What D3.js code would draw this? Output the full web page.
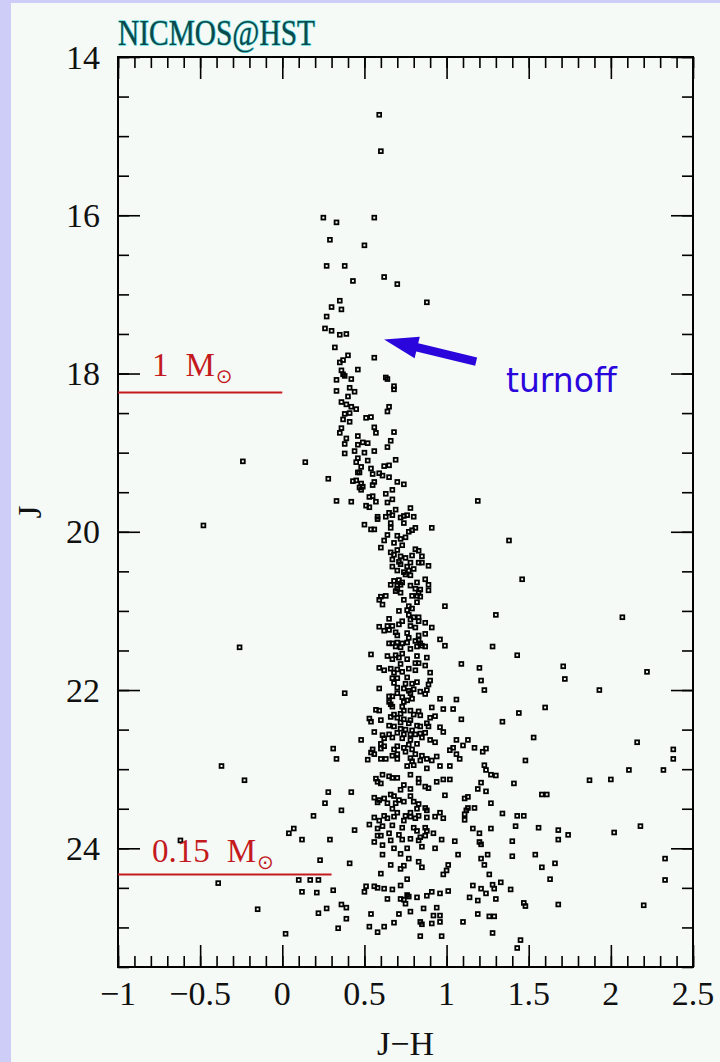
<!DOCTYPE html>
<html>
<head>
<meta charset="utf-8">
<script src="https://cdn.jsdelivr.net/npm/d3@7"></script>
<style>
  html, body { margin: 0; padding: 0; background: #f5faf7; }
  svg { display: block; }
</style>
</head>
<body>
<script>
// axis ticks and labels
var xMajor = [-1, -0.5, 0, 0.5, 1, 1.5, 2, 2.5];
var xLabels = ["\u22121", "\u22120.5", "0", "0.5", "1", "1.5", "2", "2.5"];
var yMajor = [14, 16, 18, 20, 22, 24];
var yLabels = ["14", "16", "18", "20", "22", "24"];

// mass markers on the main sequence (J where the mass is reached, colour where the bar stops)
var massNames = ["1", "0.15"];
var massJ = [18.24, 24.33];
var massEnd = [0.0, 0.3];

// turnoff arrow, tail -> tip, in J-H / J
var arrowTail = [1.18, 17.85];
var arrowTip = [0.62, 17.57];

// photometry, [J-H, J]
var brightStars = [[0.59,14.73],[0.60,15.19],[0.25,16.03],[0.33,16.09],[0.56,16.03],[0.29,16.31],[0.50,16.38],[0.27,16.64],[0.38,16.64],[0.43,16.83],[0.62,16.78],[0.70,16.87],[0.88,17.10],[0.35,17.08],[0.30,17.16],[0.36,17.19],[0.27,17.28],[0.26,17.43],[0.30,17.46],[0.35,17.51],[0.39,17.50],[0.32,17.67],[0.40,17.77],[0.37,17.83],[0.35,17.86],[0.56,17.80],[0.36,17.96],[0.46,17.95],[0.37,18.01],[0.38,18.03],[0.33,18.08],[0.42,18.07],[0.63,18.05],[0.64,18.07],[0.68,18.16],[0.68,18.20],[0.41,18.18],[0.44,18.23],[0.33,18.22],[0.40,18.29],[0.36,18.36],[0.39,18.39],[0.42,18.42],[0.45,18.45],[0.65,18.42]];

var upperStars = [[0.64,18.48],[0.38,18.51],[0.41,18.50],[0.37,18.58],[0.41,18.61],[0.51,18.56],[0.54,18.55],[0.36,18.69],[0.35,18.75],[0.56,18.68],[0.57,18.75],[0.68,18.74],[0.39,18.82],[0.38,18.89],[0.46,18.79],[0.49,18.87],[0.52,18.88],[0.46,18.90],[0.66,18.85],[0.64,18.93],[0.38,19.01],[0.44,18.98],[0.50,19.00],[0.56,18.98],[0.14,19.12],[0.46,19.07],[0.45,19.12],[0.52,19.10],[0.69,19.09],[0.48,19.18],[0.54,19.20],[0.62,19.17],[0.65,19.16],[0.46,19.25],[0.47,19.25],[0.55,19.27],[0.59,19.26],[0.61,19.29],[0.65,19.31],[0.28,19.33],[0.43,19.36],[0.45,19.35],[0.48,19.39],[0.56,19.37],[0.55,19.41],[0.70,19.37],[0.74,19.40],[0.47,19.44],[0.49,19.43],[0.48,19.47],[0.67,19.47],[0.63,19.52],[0.53,19.56],[0.55,19.55],[0.33,19.61],[0.42,19.62],[0.57,19.62],[0.64,19.63],[0.67,19.59],[1.19,19.61],[0.51,19.67],[0.53,19.69],[0.78,19.70],[0.69,19.72],[0.65,19.76],[0.67,19.79],[0.63,19.81],[0.58,19.81],[0.58,19.84],[0.72,19.82],[0.74,19.80],[0.76,19.79],[0.80,19.81],[0.50,19.91],[0.66,19.89],[0.74,19.89],[0.66,19.95],[0.81,19.95],[0.91,19.95],[0.54,19.97],[0.56,19.97]];

var middleStars = [[0.77,20.00],[0.79,19.98],[0.64,20.04],[0.70,20.05],[0.72,20.09],[0.75,20.07],[0.62,20.11],[0.68,20.14],[0.73,20.17],[1.38,20.11],[0.60,20.20],[0.70,20.23],[0.81,20.22],[0.83,20.24],[0.66,20.26],[0.68,20.29],[0.72,20.31],[0.75,20.33],[0.79,20.30],[0.85,20.31],[0.67,20.35],[0.71,20.38],[0.78,20.39],[0.83,20.39],[0.85,20.39],[0.67,20.44],[0.72,20.41],[0.76,20.44],[0.89,20.43],[0.70,20.49],[0.74,20.51],[0.77,20.49],[0.80,20.47],[0.75,20.54],[0.78,20.55],[0.68,20.62],[0.71,20.61],[0.73,20.64],[0.82,20.64],[0.87,20.60],[0.66,20.67],[0.70,20.68],[0.72,20.67],[0.89,20.67],[0.70,20.72],[0.78,20.68],[0.81,20.72],[0.84,20.73],[0.89,20.74],[0.69,20.75],[0.72,20.77],[0.83,20.77],[0.63,20.81],[0.60,20.82],[0.79,20.81],[0.82,20.81],[0.84,20.82],[0.59,20.86],[0.74,20.86],[0.82,20.89],[0.61,20.92],[0.77,20.94],[0.99,20.94],[0.71,21.00],[0.76,20.99],[0.79,20.97],[1.30,21.05],[0.77,21.05],[0.80,21.08],[0.83,21.08],[0.65,21.10],[0.78,21.11],[0.73,21.13],[0.83,21.13],[0.87,21.15],[0.59,21.20],[0.64,21.19],[0.67,21.19],[0.71,21.17],[0.78,21.19],[0.81,21.21],[0.91,21.21],[0.62,21.25],[0.65,21.24],[0.69,21.27],[0.70,21.31],[0.76,21.28],[0.83,21.31],[0.87,21.29],[0.77,21.34],[0.83,21.37],[0.96,21.36],[0.65,21.41],[0.67,21.41],[0.70,21.40],[0.73,21.41],[0.76,21.40],[0.81,21.38],[0.84,21.41],[0.99,21.44],[1.28,21.45],[0.69,21.45],[0.78,21.48],[0.82,21.45],[0.85,21.44],[0.87,21.45],[0.72,21.46]];

var lowerStars = [[0.54,21.55],[0.64,21.57],[0.69,21.56],[0.73,21.54],[0.82,21.57],[1.43,21.56],[0.67,21.61],[0.71,21.59],[0.76,21.61],[0.88,21.59],[0.81,21.66],[0.83,21.66],[0.72,21.67],[1.09,21.67],[1.20,21.72],[0.59,21.72],[0.62,21.75],[0.66,21.73],[0.70,21.74],[0.73,21.77],[0.77,21.73],[0.81,21.75],[0.87,21.69],[0.68,21.78],[0.90,21.78],[0.67,21.85],[0.70,21.85],[0.76,21.84],[0.90,21.88],[1.21,21.88],[0.68,21.91],[0.75,21.92],[0.79,21.92],[0.82,21.90],[0.89,21.93],[0.59,21.98],[0.70,21.97],[0.74,21.98],[0.77,22.01],[0.80,21.99],[0.84,22.02],[0.88,22.00],[1.23,22.00],[0.38,22.04],[0.70,22.04],[0.78,22.04],[0.87,22.05],[0.65,22.08],[0.67,22.08],[0.73,22.09],[0.79,22.11],[0.96,22.11],[1.06,22.12],[0.65,22.15],[0.66,22.18],[0.74,22.15],[0.76,22.13],[0.67,22.21],[0.73,22.21],[0.91,22.22],[0.98,22.24],[1.04,22.24],[0.57,22.25],[0.59,22.26],[0.74,22.26],[0.78,22.26],[0.83,22.27],[1.44,22.29],[0.68,22.31],[0.72,22.30],[0.80,22.31],[0.84,22.32],[0.93,22.33],[0.66,22.34],[0.70,22.35],[0.90,22.35],[0.53,22.36],[0.60,22.38],[0.74,22.37],[0.78,22.38],[1.09,22.37],[0.54,22.40],[0.72,22.41],[0.77,22.42],[0.88,22.42],[1.34,22.40],[0.65,22.45],[0.68,22.46],[0.82,22.45],[0.84,22.46],[0.89,22.46],[0.72,22.49],[0.75,22.50],[0.79,22.51],[0.96,22.47],[0.56,22.53],[0.61,22.57],[0.65,22.56],[0.70,22.54],[0.74,22.56],[0.78,22.56],[0.81,22.56],[0.84,22.55],[0.87,22.54],[0.98,22.53],[0.62,22.61],[0.67,22.60],[0.73,22.61],[0.78,22.63],[0.85,22.60],[1.53,22.60],[0.48,22.63],[0.60,22.68],[0.62,22.71],[0.70,22.71],[0.77,22.69],[0.82,22.68],[0.90,22.63],[0.93,22.66],[1.06,22.63],[1.13,22.63],[0.31,22.74],[0.55,22.75],[0.60,22.74],[0.68,22.75],[0.74,22.73],[0.79,22.75],[1.04,22.73],[1.10,22.70],[1.17,22.73],[1.24,22.74],[0.33,22.87],[0.54,22.79],[0.56,22.81],[0.52,22.88],[0.60,22.87],[0.63,22.87],[0.67,22.83],[0.70,22.87],[0.70,22.81],[0.75,22.78],[0.78,22.86],[0.79,22.90],[0.81,22.81],[0.85,22.83],[0.84,22.89],[0.88,22.87],[0.91,22.89],[0.94,22.84],[0.76,22.96],[0.80,22.95],[0.88,22.99],[0.96,22.96],[1.02,22.96],[1.02,22.76],[1.06,22.81],[1.08,22.87],[1.22,22.78],[1.23,22.95],[1.48,22.89]];

var faintStars = [[1.24,23.01],[1.27,23.07],[1.30,23.08],[0.61,23.07],[0.65,23.09],[0.67,23.11],[0.70,23.11],[0.57,23.12],[0.58,23.16],[0.60,23.18],[0.78,23.07],[0.83,23.12],[0.83,23.17],[0.74,23.20],[0.72,23.26],[0.78,23.25],[0.87,23.22],[0.89,23.24],[0.94,23.16],[0.98,23.13],[1.02,23.13],[1.21,23.17],[1.19,23.25],[1.24,23.28],[1.41,23.18],[0.28,23.29],[0.42,23.29],[0.56,23.36],[0.59,23.39],[0.62,23.37],[0.66,23.32],[0.68,23.34],[0.71,23.39],[0.74,23.41],[0.78,23.34],[0.58,23.42],[0.64,23.43],[0.69,23.43],[0.80,23.41],[0.83,23.44],[0.99,23.33],[1.11,23.37],[1.13,23.35],[1.27,23.43],[1.58,23.32],[1.61,23.32],[0.26,23.43],[0.36,23.52],[0.67,23.50],[0.70,23.55],[0.78,23.55],[0.82,23.50],[0.87,23.49],[0.88,23.52],[0.93,23.60],[0.96,23.55],[0.98,23.62],[1.13,23.49],[1.12,23.52],[1.17,23.49],[1.11,23.57],[1.11,23.64],[1.34,23.56],[1.43,23.59],[1.47,23.59],[0.19,23.59],[0.56,23.61],[0.59,23.65],[0.62,23.59],[0.64,23.62],[0.68,23.60],[0.74,23.65],[0.75,23.59],[0.78,23.60],[0.81,23.62],[0.83,23.59],[0.88,23.61],[0.53,23.70],[0.58,23.75],[0.61,23.72],[0.67,23.71],[0.73,23.74],[0.80,23.74],[0.82,23.78],[0.87,23.74],[0.88,23.78],[0.07,23.75],[0.04,23.81],[0.44,23.77],[1.16,23.75],[1.20,23.81],[1.27,23.75],[1.42,23.72],[1.56,23.74],[1.68,23.77],[0.12,23.89],[0.29,23.89],[0.56,23.92],[0.58,23.84],[0.60,23.84],[0.65,23.81],[0.66,23.90],[0.71,23.83],[0.73,23.89],[0.78,23.88],[0.84,23.86],[0.83,23.90],[0.87,23.84],[0.92,23.81],[0.97,23.89],[1.05,23.91],[1.20,23.92],[1.21,23.95],[1.40,23.91],[1.68,23.89],[0.61,23.96],[0.68,24.00],[0.76,24.00],[0.85,23.98],[0.93,24.00]];

var faintestStars = [[0.72,24.07],[0.61,24.08],[0.77,24.13],[1.07,24.08],[1.21,24.13],[1.25,24.08],[1.40,24.10],[1.54,24.08],[1.66,24.19],[1.58,24.24],[0.23,24.15],[0.41,24.19],[0.66,24.21],[0.72,24.26],[0.74,24.22],[0.83,24.17],[0.85,24.24],[1.01,24.21],[1.00,24.28],[0.98,24.33],[1.23,24.21],[0.60,24.32],[1.26,24.33],[1.63,24.39],[0.10,24.40],[0.17,24.40],[0.22,24.40],[0.76,24.39],[1.33,24.43],[1.28,24.46],[1.29,24.51],[1.39,24.52],[1.16,24.47],[1.21,24.51],[1.24,24.57],[0.51,24.48],[0.56,24.48],[0.58,24.50],[0.62,24.51],[0.50,24.55],[0.67,24.52],[0.72,24.47],[0.76,24.59],[0.77,24.61],[0.72,24.64],[0.74,24.65],[0.75,24.70],[0.82,24.62],[0.88,24.60],[0.91,24.55],[0.96,24.57],[1.01,24.54],[0.12,24.55],[0.21,24.56],[0.31,24.53],[1.14,24.62],[1.19,24.66],[1.30,24.64],[1.47,24.69],[1.48,24.73],[1.68,24.71],[0.36,24.71],[0.39,24.75],[0.27,24.76],[0.22,24.82],[0.64,24.64],[0.78,24.80],[0.86,24.76],[0.94,24.75],[0.71,24.83],[0.92,24.85],[0.96,24.85],[0.54,24.83],[1.19,24.83],[1.26,24.86],[1.29,24.86],[0.39,24.89],[0.53,24.99],[0.62,24.99],[0.68,24.94],[0.84,24.93],[0.85,24.96],[0.91,24.95],[0.96,24.93],[1.10,24.93],[0.34,25.01],[0.58,25.06],[0.02,25.08],[0.84,25.11],[0.97,25.11],[1.28,25.07],[1.45,25.16],[1.43,25.26]];

var fieldStars = [[-0.62,23.90],[-0.39,24.44],[-0.15,24.77],[-0.24,19.11],[-0.48,19.92],[-0.26,21.46],[-0.37,22.96],[-0.23,23.14],[1.46,20.60],[2.07,21.08],[1.71,21.70],[1.72,21.86],[1.93,22.00],[2.22,21.77],[1.60,22.22],[2.16,22.66],[2.38,22.75],[2.38,22.87],[2.32,23.01],[2.11,23.01],[2.00,23.13],[1.87,23.14],[2.18,23.72],[2.02,23.80],[1.74,23.83],[2.33,24.13],[2.33,24.40],[2.20,24.72]];

var stars = brightStars.concat(upperStars, middleStars, lowerStars, faintStars, faintestStars, fieldStars);

var width = 720, height = 1062;
var serif = "'Liberation Serif', 'DejaVu Serif', serif";

var svg = d3.select("body").append("svg")
  .attr("width", width)
  .attr("height", height);

// page background with the lavender edge
svg.append("rect").attr("width", width).attr("height", height).attr("fill", "#f5faf7");
svg.append("rect").attr("width", 11).attr("height", height).attr("fill", "#cdcdf7");
svg.append("rect").attr("width", width).attr("height", 3).attr("fill", "#cdcdf7");

var x = d3.scaleLinear().domain([-1, 2.5]).range([118, 693]);
var y = d3.scaleLinear().domain([14, 25.5]).range([57, 967]);

var xMinor = d3.range(-10, 26).map(function(d) { return d / 10; });
var yMinor = d3.range(28, 52).map(function(d) { return d / 2; });

// inward ticks on all four sides: minor ones first, then the long ones
var sides = [
  [d3.axisBottom, x, "translate(0," + y(25.5) + ")", xMinor, xMajor],
  [d3.axisTop, x, "translate(0," + y(14) + ")", xMinor, xMajor],
  [d3.axisLeft, y, "translate(" + x(-1) + ",0)", yMinor, yMajor],
  [d3.axisRight, y, "translate(" + x(2.5) + ",0)", yMinor, yMajor]
];
sides.forEach(function(s) {
  [[s[3], 11], [s[4], 22]].forEach(function(set) {
    var g = svg.append("g").attr("transform", s[2])
      .call(s[0](s[1]).tickValues(set[0]).tickSize(-set[1]).tickFormat(""));
    g.select(".domain").remove();
    g.selectAll(".tick line").attr("stroke", "#000").attr("stroke-width", 1.6);
  });
});

// plot frame
svg.append("rect")
  .attr("x", x(-1)).attr("y", y(14))
  .attr("width", x(2.5) - x(-1)).attr("height", y(25.5) - y(14))
  .attr("fill", "none").attr("stroke", "#000").attr("stroke-width", 2);

// tick labels
svg.append("g").selectAll("text").data(xMajor).enter().append("text")
  .attr("x", function(d) { return x(d); })
  .attr("y", y(25.5) + 38)
  .attr("text-anchor", "middle")
  .attr("font-family", serif).attr("font-size", 34)
  .attr("fill", "#111")
  .text(function(d, i) { return xLabels[i]; });

svg.append("g").selectAll("text").data(yMajor).enter().append("text")
  .attr("x", x(-1) - 18)
  .attr("y", function(d) { return y(d) + 11.5; })
  .attr("text-anchor", "end")
  .attr("font-family", serif).attr("font-size", 34)
  .attr("fill", "#111")
  .text(function(d, i) { return yLabels[i]; });

// axis titles
svg.append("text")
  .attr("x", (x(-1) + x(2.5)) / 2).attr("y", 1055)
  .attr("text-anchor", "middle")
  .attr("font-family", serif).attr("font-size", 34)
  .attr("fill", "#111")
  .text("J\u2212H");

svg.append("text")
  .attr("transform", "translate(41," + ((y(14) + y(25.5)) / 2) + ") rotate(-90)")
  .attr("text-anchor", "middle")
  .attr("font-family", serif).attr("font-size", 33)
  .attr("fill", "#111")
  .text("J");

// instrument tag
svg.append("text")
  .attr("x", 118).attr("y", 45)
  .attr("font-family", serif).attr("font-size", 36)
  .attr("textLength", 197).attr("lengthAdjust", "spacingAndGlyphs")
  .attr("fill", "#0b4a4c")
  .attr("stroke", "#66dcdc").attr("stroke-width", 1.4).attr("paint-order", "stroke")
  .text("NICMOS@HST");

// stars
svg.append("g").selectAll("rect").data(stars).enter().append("rect")
  .attr("x", function(d) { return x(d[0]) - 1.9; })
  .attr("y", function(d) { return y(d[1]) - 1.9; })
  .attr("width", 3.8).attr("height", 3.8)
  .attr("fill", "none")
  .attr("stroke", "#000")
  .attr("stroke-width", 1.8);

// mass bars and labels
var red = "#c41a1e";
var labelLift = [17, 12];
massNames.forEach(function(name, i) {
  svg.append("line")
    .attr("x1", x(-1)).attr("x2", x(massEnd[i]))
    .attr("y1", y(massJ[i])).attr("y2", y(massJ[i]))
    .attr("stroke", red).attr("stroke-width", 2);
  var t = svg.append("text")
    .attr("x", x(-1) + 34).attr("y", y(massJ[i]) - labelLift[i])
    .attr("font-family", serif).attr("font-size", 33)
    .attr("fill", red);
  t.append("tspan").text(name);
  t.append("tspan").attr("dx", 17).text("M");
  t.append("tspan").attr("font-size", 20).attr("dy", 7).attr("dx", 1)
    .attr("font-family", "'DejaVu Sans', sans-serif").text("\u2299");
});

// turnoff arrow
var blue = "#2a06dc";
var tail = [x(arrowTail[0]), y(arrowTail[1])];
var tip = [x(arrowTip[0]), y(arrowTip[1])];
var dx = tip[0] - tail[0], dy = tip[1] - tail[1];
var len = Math.sqrt(dx * dx + dy * dy);
var ux = dx / len, uy = dy / len;
var headLen = 34, headHalf = 11;
var base = [tip[0] - ux * headLen, tip[1] - uy * headLen];
svg.append("line")
  .attr("x1", tail[0]).attr("y1", tail[1])
  .attr("x2", base[0] + ux * 2).attr("y2", base[1] + uy * 2)
  .attr("stroke", blue).attr("stroke-width", 8.5);
svg.append("path")
  .attr("d", "M" + tip[0] + "," + tip[1] +
    "L" + (base[0] - uy * headHalf) + "," + (base[1] + ux * headHalf) +
    "L" + (base[0] + uy * headHalf) + "," + (base[1] - ux * headHalf) + "Z")
  .attr("fill", blue);

svg.append("text")
  .attr("x", 506).attr("y", 392)
  .attr("font-family", "'DejaVu Sans', sans-serif").attr("font-size", 33)
  .attr("fill", blue)
  .text("turnoff");
</script>
</body>
</html>
